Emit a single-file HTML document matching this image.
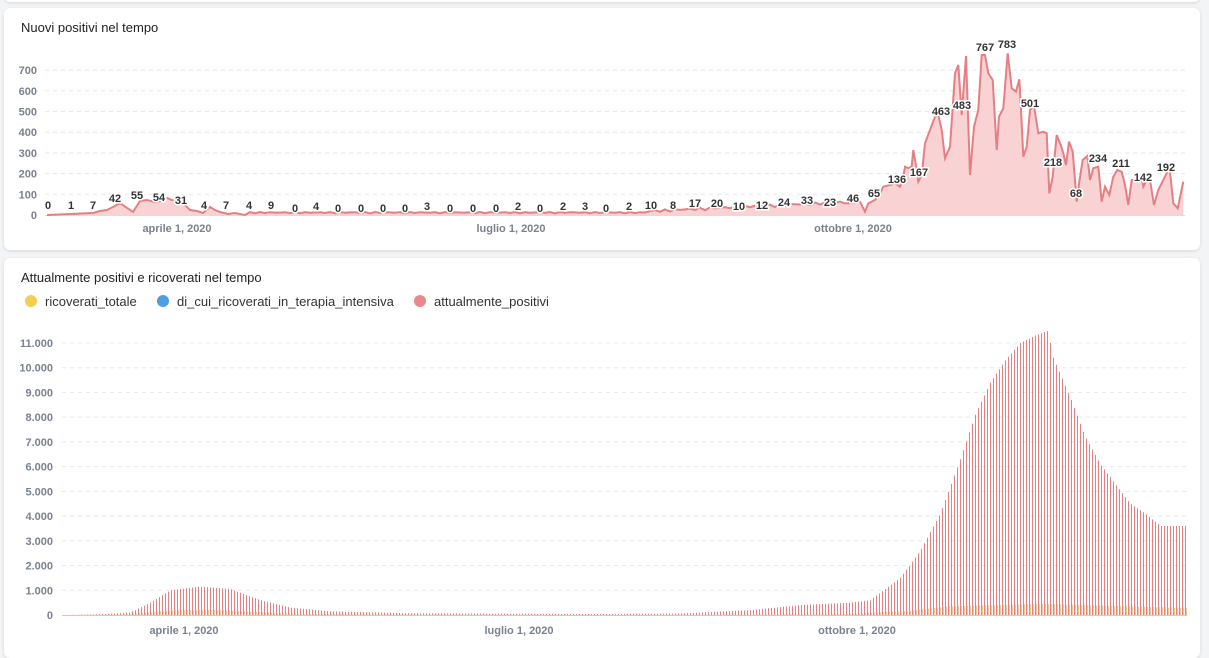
<!DOCTYPE html>
<html><head><meta charset="utf-8"><style>
body{margin:0;width:1209px;height:648px;background:#f3f4f6;overflow:hidden;font-family:"Liberation Sans",sans-serif;}
.card{position:absolute;background:#fff;border-radius:6px;box-shadow:0 1px 3px rgba(0,0,0,.12);}
svg{position:absolute;left:0;top:0}
</style></head><body>
<div class="card" style="left:4px;top:-10px;width:1196px;height:12px"></div>
<div class="card" style="left:4px;top:8px;width:1196px;height:242px"></div>
<div class="card" style="left:4px;top:258px;width:1196px;height:400px"></div>
<svg id="s" width="1209" height="648" xmlns="http://www.w3.org/2000/svg"></svg>
<script>
const s=document.getElementById('s');let h='';
function T(x,y,t,o){h+=`<text x="${x}" y="${y}" ${o||''}>${t}</text>`;}
h+='<g font-family="Liberation Sans, sans-serif">';
T(21,32,'Nuovi positivi nel tempo','font-size="13" fill="#222"');
T(21,282,'Attualmente positivi e ricoverati nel tempo','font-size="13" fill="#222"');
h+='<circle cx="31" cy="301" r="6" fill="#f5cd52"/><circle cx="163" cy="301" r="6" fill="#4f9ee3"/><circle cx="420" cy="301" r="6" fill="#e88a8a"/>';
T(45,306,'ricoverati_totale','font-size="13" fill="#333"');T(177,306,'di_cui_ricoverati_in_terapia_intensiva','font-size="13" fill="#333"');T(434,306,'attualmente_positivi','font-size="13" fill="#333"');
for(let i=0;i<=7;i++){let y=215-i*20.7;T(37,y+4,i*100,'font-size="11" font-weight="bold" fill="#7a8290" text-anchor="end"');if(i>0)h+=`<line x1="45" x2="1185" y1="${y}" y2="${y}" stroke="#e6e8ec" stroke-dasharray="4,4"/>`;}
h+='<line x1="45" x2="1185" y1="215.5" y2="215.5" stroke="#ddd"/>';
[[177,'aprile 1, 2020'],[511,'luglio 1, 2020'],[853,'ottobre 1, 2020']].forEach(a=>T(a[0],232,a[1],'font-size="11" font-weight="bold" fill="#7a8290" text-anchor="middle"'));
let P=[[47,215],[93,213],[100,211],[107,210],[113,207],[120,203],[133,212],[140,201],[147,200],[155,202],[160,201],[167,198],[172,200],[180,202],[185,205],[190,210],[197,211],[203,213],[210,207],[215,210],[220,212],[228,214],[235,213],[245,215]];
for(let x=250;x<850;x+=5){let b=x<650?0.5:1+(x-650)/22;let a=x<650?1.5:3;P.push([x,214-b-Math.abs(Math.sin(x*0.9))*a]);}
const Z=[[0,550],[30,545],[45,575],[55,550],[75,540],[90,520],[100,500],[120,495],[135,490],[150,500],[160,470],[165,440],[175,445],[185,440],[190,390],[200,450],[205,485],[215,465],[225,370],[240,330],[255,290],[265,285],[275,330],[285,415],[300,380],[315,160],[325,135],[335,285],[348,108],[360,465],[372,320],[385,270],[395,105],[405,105],[415,160],[428,180],[440,390],[447,290],[460,265],[473,100],[485,205],[498,215],[508,178],[512,250],[520,410],[530,380],[540,270],[552,258],[565,340],[580,335],[590,340],[598,520],[608,470],[620,345],[632,375],[640,400],[648,435],[657,365],[668,395],[680,545],[688,485],[698,420],[712,408],[720,480],[730,445],[745,440],[755,545],[765,500],[778,525],[790,470],[802,450],[815,455],[825,495],[835,555],[845,480],[860,480],[875,475],[880,500],[890,480],[900,480],[912,555],[925,510],[945,470],[955,450],[960,455],[970,550],[983,565],[1000,485]];
Z.forEach(p=>P.push([850+p[0]/3,20+p[1]/3]));
let d=P.map((p,i)=>(i?'L':'M')+p[0].toFixed(1)+','+p[1].toFixed(1)).join('');
h+=`<path d="${d}L${P[P.length-1][0]},215L47,215Z" fill="#f9d3d3"/><path d="${d}" fill="none" stroke="#e57f84" stroke-width="2"/>`;
const L=[[48,205,0],[71,205,1],[93,205,7],[115,198,42],[137,195,55],[159,197,54],[181,200,31],[204,205,4],[226,205,7],[249,205,4],[271,205,9],[295,208,0],[316,206,4],[338,208,0],[361,208,0],[383,208,0],[405,208,0],[427,206,3],[450,208,0],[473,208,0],[496,208,0],[518,206,2],[540,208,0],[563,206,2],[585,206,3],[606,208,0],[629,206,2],[651,205,10],[673,205,8],[695,203,17],[717,203,20],[739,206,10],[762,205,12],[784,202,24],[807,200,33],[830,202,23],[853,198,46],[874,193,65],[897,179,136],[919,172,167],[941,111,463],[962,105,483],[985,47,767],[1007,44,783],[1030,103,501],[1053,162,218],[1076,193,68],[1098,158,234],[1121,163,211],[1143,177,142],[1166,167,192]];
L.forEach(l=>T(l[0],l[1]+4,l[2],'font-size="11" font-weight="bold" fill="#333" text-anchor="middle" stroke="#fff" stroke-width="3" paint-order="stroke"'));
for(let i=0;i<=11;i++){let y=615-i*24.73;T(53,y+4,i?i+'.000':'0','font-size="11" font-weight="bold" fill="#7a8290" text-anchor="end"');if(i>0)h+=`<line x1="62" x2="1187" y1="${y}" y2="${y}" stroke="#e6e8ec" stroke-dasharray="4,4"/>`;}
[[184,'aprile 1, 2020'],[519,'luglio 1, 2020'],[857,'ottobre 1, 2020']].forEach(a=>T(a[0],634,a[1],'font-size="11" font-weight="bold" fill="#7a8290" text-anchor="middle"'));
const K=[[62,0],[100,30],[130,100],[150,500],[170,1000],[200,1150],[230,1050],[260,600],[290,300],[330,150],[400,80],[500,50],[600,40],[680,60],[750,200],[800,400],[850,500],[870,600],[880,900],[900,1500],[920,2600],[940,4100],[960,6300],[975,8100],[990,9400],[1005,10300],[1020,11000],[1035,11300],[1048,11500],[1052,10500],[1070,8800],[1085,7200],[1100,6100],[1115,5300],[1130,4500],[1145,4100],[1160,3600],[1187,3600]];
const O=[[62,0],[130,30],[170,200],[220,200],[290,50],[400,20],[700,10],[850,40],[900,150],[950,350],[1040,450],[1100,380],[1187,280]];
function f(A,x){for(let i=1;i<A.length;i++)if(x<=A[i][0]){let a=A[i-1],b=A[i];return a[1]+(b[1]-a[1])*(x-a[0])/(b[0]-a[0]);}return 0;}
let r='',o='';
for(let x=63;x<1186;x+=3){let v=f(K,x);r+=`M${x+0.5},615V${(615-v*0.02473).toFixed(1)}`;let w=f(O,x);o+=`M${x+1.5},615V${(615-w*0.02473).toFixed(1)}`;}
h+=`<path d="${r}" stroke="#e57f84" stroke-width="1"/><path d="${o}" stroke="#f8c98f" stroke-width="1"/>`;
h+='<line x1="62" x2="1187" y1="615.5" y2="615.5" stroke="#ccc"/>';
h+='</g>';s.innerHTML=h;
</script>
</body></html>
